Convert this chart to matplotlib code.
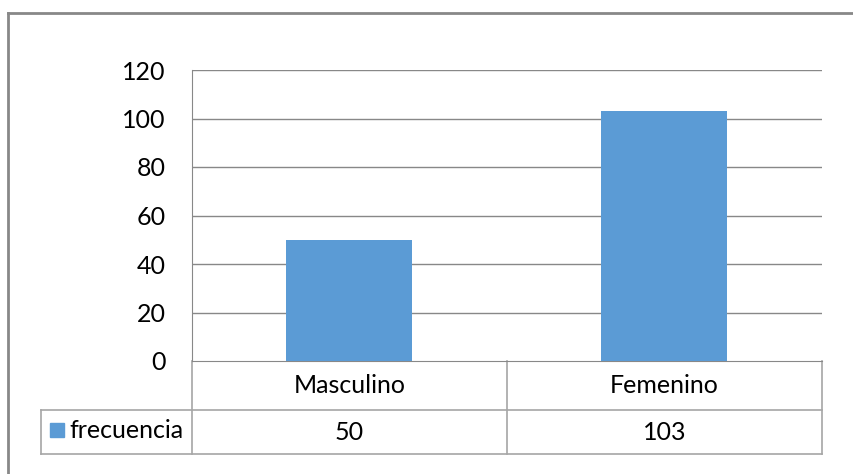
import matplotlib

matplotlib.use("Agg")
import matplotlib.pyplot as plt
from matplotlib.lines import Line2D
from matplotlib.patches import Rectangle

categories = ["Masculino", "Femenino"]
values = [50, 103]
series_name = "frecuencia"
y_ticks = [0, 20, 40, 60, 80, 100, 120]

BAR_COLOR = "#5B9BD5"
GRID_COLOR = "#888888"
TABLE_COLOR = "#A6A6A6"
W, H = 854, 474
FS = 18

plt.rcParams["font.family"] = ["Lato", "DejaVu Sans"]


def px(x, y):
    # pixel position (from top-left) to figure fraction
    return x / W, 1 - y / H


def main():
    fig = plt.figure(figsize=(W / 100, H / 100), dpi=100)

    left, top = px(192, 70)
    right, bottom = px(822, 361)
    ax = fig.add_axes([left, bottom, right - left, top - bottom])

    xs = list(range(len(categories)))
    ax.bar(xs, values, width=0.4, color=BAR_COLOR, zorder=3)
    ax.set_xlim(-0.5, len(categories) - 0.5)
    ax.set_ylim(y_ticks[0], y_ticks[-1])
    ax.set_yticks(y_ticks)
    ax.set_xticks([])
    ax.tick_params(axis="y", length=0, pad=19, labelsize=FS)
    for t in y_ticks[1:]:
        ax.axhline(t, color=GRID_COLOR, lw=1, zorder=1)
    for s in ["top", "right"]:
        ax.spines[s].set_visible(False)
    ax.spines["left"].set_color(GRID_COLOR)
    ax.spines["bottom"].set_color(GRID_COLOR)

    # data table below the plot
    ax_h = 361 - 70
    row1 = -49 / ax_h
    row2 = -93 / ax_h
    tleft = -151 / 630
    kw = dict(transform=ax.transAxes, color=TABLE_COLOR, lw=1.2, clip_on=False)
    ax.add_line(Line2D([0, 0], [0, row2], **kw))
    ax.add_line(Line2D([tleft, 1], [row1, row1], **kw))
    ax.add_line(Line2D([tleft, 1], [row2, row2], **kw))
    ax.add_line(Line2D([tleft, tleft], [row1, row2], **kw))
    ax.add_line(Line2D([1, 1], [0, row2], **kw))
    n = len(categories)
    for i in range(1, n):
        xa = i / n
        ax.add_line(Line2D([xa, xa], [0, row2], **kw))
    for i, (c, v) in enumerate(zip(categories, values)):
        xa = (i + 0.5) / n
        ax.text(xa, row1 / 2, c, transform=ax.transAxes, ha="center",
                va="center", fontsize=FS)
        ax.text(xa, (row1 + row2) / 2, str(v), transform=ax.transAxes,
                ha="center", va="center", fontsize=FS)

    # legend key in the table
    kx, ky = px(50, 437)
    fig.add_artist(Rectangle((kx, ky), 14 / W, 14 / H, transform=fig.transFigure,
                             color=BAR_COLOR))
    tx, ty = px(69, 431)
    fig.text(tx, ty, series_name, ha="left", va="center", fontsize=FS)

    # outer chart border (left and top only visible)
    bx, by = px(8, 12.5)
    fig.add_artist(Line2D([bx, 1], [by, by], transform=fig.transFigure,
                          color=GRID_COLOR, lw=2))
    fig.add_artist(Line2D([bx, bx], [by, 0], transform=fig.transFigure,
                          color=GRID_COLOR, lw=2))

    fig.savefig("out.png", dpi=100)


if __name__ == "__main__":
    main()
